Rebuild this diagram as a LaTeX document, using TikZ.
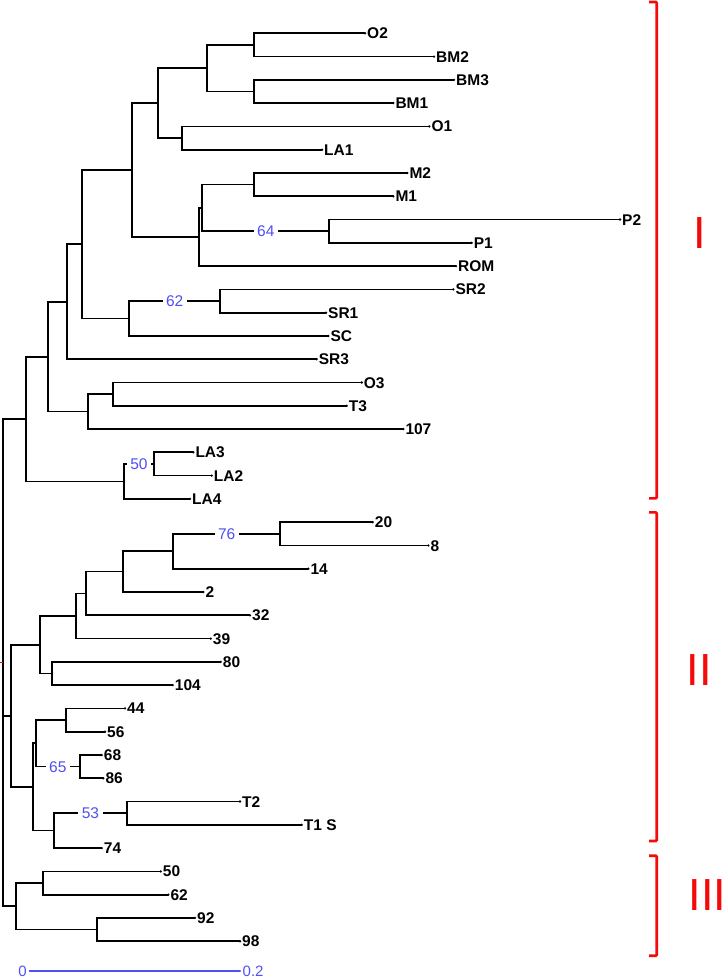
\documentclass[tikz,border=0pt]{standalone}
\usepackage{fontspec}
\setmainfont{Liberation Sans}
\definecolor{bsblue}{RGB}{80,80,245}
\definecolor{grpred}{RGB}{245,10,10}
\begin{document}
\begin{tikzpicture}[x=1pt,y=-1pt,
  br/.style={line width=1.7pt, black},
  leaf/.style={anchor=west, inner xsep=2pt, inner ysep=0pt, font=\fontsize{15.5}{16}\selectfont\bfseries, text height=11pt, text depth=0pt},
  boot/.style={fill=white, text=bsblue, font=\fontsize{15.5}{16}\selectfont, inner xsep=3.5pt, inner ysep=0pt, text height=11pt, text depth=0pt},
  sblbl/.style={text=bsblue, font=\fontsize{15}{16}\selectfont, inner xsep=2.5pt, inner ysep=0pt, text height=10.5pt, text depth=0pt},
  brk/.style={grpred, line width=2.6pt, rounded corners=1pt},
  grp/.style={text=grpred, font=\fontsize{45}{45}\selectfont, inner sep=0pt}
]
\useasboundingbox (0,0) rectangle (727,979);

% ---------- leaves ----------
\node[leaf] (LO2)  at (365,33.3)  {O2};
\node[leaf] (LBM2) at (434,56.6)  {BM2};
\node[leaf] (LBM3) at (454,79.9)  {BM3};
\node[leaf] (LBM1) at (393.3,103.1) {BM1};
\node[leaf] (LO1)  at (429.3,126.4) {O1};
\node[leaf] (LLA1) at (322,149.7) {LA1};
\node[leaf] (LM2)  at (407.3,173.0) {M2};
\node[leaf] (LM1)  at (393.3,196.3) {M1};
\node[leaf] (LP2)  at (620,219.5) {P2};
\node[leaf] (LP1)  at (471.7,242.8) {P1};
\node[leaf] (LROM) at (456,266.1) {ROM};
\node[leaf] (LSR2) at (453.3,289.4) {SR2};
\node[leaf] (LSR1) at (326,312.7) {SR1};
\node[leaf] (LSC)  at (328.3,336.0) {SC};
\node[leaf] (LSR3) at (316.7,359.2) {SR3};
\node[leaf] (LO3)  at (361.7,382.5) {O3};
\node[leaf] (LT3)  at (346.7,405.8) {T3};
\node[leaf] (L107) at (403.3,429.1) {107};
\node[leaf] (LLA3) at (193.3,452.3) {LA3};
\node[leaf] (LLA2) at (211.7,475.6) {LA2};
\node[leaf] (LLA4) at (190,498.9) {LA4};
\node[leaf] (L20)  at (372.7,522.2) {20};
\node[leaf] (L8)   at (428.3,545.5) {8};
\node[leaf] (L14)  at (308.3,568.7) {14};
\node[leaf] (L2)   at (203.3,592.0) {2};
\node[leaf] (L32)  at (250,615.3) {32};
\node[leaf] (L39)  at (210.7,638.6) {39};
\node[leaf] (L80)  at (220.7,661.9) {80};
\node[leaf] (L104) at (172.7,685.1) {104};
\node[leaf] (L44)  at (125,708.4) {44};
\node[leaf] (L56)  at (105,731.7) {56};
\node[leaf] (L68)  at (101.7,755.0) {68};
\node[leaf] (L86)  at (103.3,778.3) {86};
\node[leaf] (LT2)  at (240,801.5) {T2};
\node[leaf] (LT1S) at (301.7,824.8) {T1 S};
\node[leaf] (L74)  at (101.7,848.1) {74};
\node[leaf] (L50)  at (160.7,871.4) {50};
\node[leaf] (L62)  at (168.3,894.7) {62};
\node[leaf] (L92)  at (195,917.9) {92};
\node[leaf] (L98)  at (240,941.2) {98};

\foreach \l in {LO2,LBM2,LBM3,LBM1,LO1,LLA1,LM2,LM1,LP2,LP1,LROM,LSR2,LSR1,LSC,LSR3,LO3,LT3,L107,LLA3,LLA2,LLA4,L20,L8,L14,L2,L32,L39,L80,L104,L44,L56,L68,L86,LT2,LT1S,L74,L50,L62,L92,L98}
  \fill (\l.west) circle (1.3pt);

% ---------- internal nodes ----------
\coordinate (nO2BM2) at (254.3,45.0);
\coordinate (nBM3BM1) at (254.3,91.5);
\coordinate (nBM) at (206.7,68.2);
\coordinate (nO1LA1) at (182.3,138.0);
\coordinate (nA) at (157.7,103.1);
\coordinate (nM) at (254.3,184.6);
\coordinate (nP) at (329.3,231.2);
\coordinate (nMP) at (202.3,207.9);
\coordinate (nMPR) at (199.3,237.0);
\coordinate (nB) at (131.7,170.0);
\coordinate (nSR) at (220,301.0);
\coordinate (nSRC) at (129.3,318.5);
\coordinate (nC) at (81.7,244.3);
\coordinate (nD) at (67.3,301.7);
\coordinate (nOT) at (112.7,394.2);
\coordinate (nOTs) at (88.3,411.6);
\coordinate (nE) at (48.3,356.7);
\coordinate (nLA) at (154,464.0);
\coordinate (nLAf) at (124,481.4);
\coordinate (nI) at (26,419.0);
\coordinate (n76) at (280,533.8);
\coordinate (n14) at (173.3,551.3);
\coordinate (n2) at (122.7,571.6);
\coordinate (n32) at (86,593.5);
\coordinate (n39) at (76,616.0);
\coordinate (n80) at (51.7,673.5);
\coordinate (nIIa) at (40,644.8);
\coordinate (n44) at (66,720.0);
\coordinate (n65) at (80,766.6);
\coordinate (nIIb) at (35.7,743.3);
\coordinate (n53) at (126.7,813.2);
\coordinate (n74) at (54.3,830.6);
\coordinate (nIIc) at (33.3,787.0);
\coordinate (nII) at (11,715.9);
\coordinate (n50) at (43.3,883.0);
\coordinate (n92) at (97.3,929.6);
\coordinate (nIII) at (16,906.3);
\coordinate (root) at (3.3,662.6);

% ---------- branches ----------
\draw[br] (nO2BM2) |- (LO2.west);
\draw[br] (nO2BM2) |- (LBM2.west);
\draw[br] (nBM3BM1) |- (LBM3.west);
\draw[br] (nBM3BM1) |- (LBM1.west);
\draw[br] (nBM) |- (nO2BM2);
\draw[br] (nBM) |- (nBM3BM1);
\draw[br] (nO1LA1) |- (LO1.west);
\draw[br] (nO1LA1) |- (LLA1.west);
\draw[br] (nA) |- (nBM);
\draw[br] (nA) |- (nO1LA1);
\draw[br] (nM) |- (LM2.west);
\draw[br] (nM) |- (LM1.west);
\draw[br] (nP) |- (LP2.west);
\draw[br] (nP) |- (LP1.west);
\draw[br] (nMP) |- (nM);
\draw[br] (nMP) |- node[boot, pos=0.75] {64} (nP);
\draw[br] (nMPR) |- (nMP);
\draw[br] (nMPR) |- (LROM.west);
\draw[br] (nB) |- (nA);
\draw[br] (nB) |- (nMPR);
\draw[br] (nSR) |- (LSR2.west);
\draw[br] (nSR) |- (LSR1.west);
\draw[br] (nSRC) |- node[boot, pos=0.75] {62} (nSR);
\draw[br] (nSRC) |- (LSC.west);
\draw[br] (nC) |- (nB);
\draw[br] (nC) |- (nSRC);
\draw[br] (nD) |- (nC);
\draw[br] (nD) |- (LSR3.west);
\draw[br] (nOT) |- (LO3.west);
\draw[br] (nOT) |- (LT3.west);
\draw[br] (nOTs) |- (nOT);
\draw[br] (nOTs) |- (L107.west);
\draw[br] (nE) |- (nD);
\draw[br] (nE) |- (nOTs);
\draw[br] (nLA) |- (LLA3.west);
\draw[br] (nLA) |- (LLA2.west);
\draw[br] (nLAf) |- node[boot, pos=0.75] {50} (nLA);
\draw[br] (nLAf) |- (LLA4.west);
\draw[br] (nI) |- (nE);
\draw[br] (nI) |- (nLAf);

\draw[br] (n76) |- (L20.west);
\draw[br] (n76) |- (L8.west);
\draw[br] (n14) |- node[boot, pos=0.75] {76} (n76);
\draw[br] (n14) |- (L14.west);
\draw[br] (n2) |- (n14);
\draw[br] (n2) |- (L2.west);
\draw[br] (n32) |- (n2);
\draw[br] (n32) |- (L32.west);
\draw[br] (n39) |- (n32);
\draw[br] (n39) |- (L39.west);
\draw[br] (n80) |- (L80.west);
\draw[br] (n80) |- (L104.west);
\draw[br] (nIIa) |- (n39);
\draw[br] (nIIa) |- (n80);
\draw[br] (n44) |- (L44.west);
\draw[br] (n44) |- (L56.west);
\draw[br] (n65) |- (L68.west);
\draw[br] (n65) |- (L86.west);
\draw[br] (nIIb) |- (n44);
\draw[br] (nIIb) |- node[boot, pos=0.75] {65} (n65);
\draw[br] (n53) |- (LT2.west);
\draw[br] (n53) |- (LT1S.west);
\draw[br] (n74) |- node[boot, pos=0.75] {53} (n53);
\draw[br] (n74) |- (L74.west);
\draw[br] (nIIc) |- (nIIb);
\draw[br] (nIIc) |- (n74);
\draw[br] (nII) |- (nIIa);
\draw[br] (nII) |- (nIIc);

\draw[br] (n50) |- (L50.west);
\draw[br] (n50) |- (L62.west);
\draw[br] (n92) |- (L92.west);
\draw[br] (n92) |- (L98.west);
\draw[br] (nIII) |- (n50);
\draw[br] (nIII) |- (n92);

\draw[br] (root) |- (nI);
\draw[br] (root) |- (nII);
\draw[br] (root) |- (nIII);
\draw[grpred, line width=0.8pt] (root) -- ++(-3,0);

% ---------- scale bar ----------
\node[sblbl, anchor=east] (s0) at (29.3,971) {0};
\node[sblbl, anchor=west] (s2) at (240,971) {0.2};
\draw[bsblue, line width=1.2pt] (s0) -- (s2);
\fill[bsblue] (s2.west) circle (1.2pt);

% ---------- group brackets ----------
\draw[brk] (649,2) -- (656.7,2) -- (656.7,498.3) -- (649,498.3);
\draw[brk] (649,512.3) -- (656.7,512.3) -- (656.7,841) -- (649,841);
\draw[brk] (649,855.7) -- (656.7,855.7) -- (656.7,955.7) -- (649,955.7);
\node[grp] (gI) at (700,233) {I};
\node[grp] (gII) at (699,670) {II};
\node[grp] (gIII) at (707.5,895) {III};
\end{tikzpicture}
\end{document}
